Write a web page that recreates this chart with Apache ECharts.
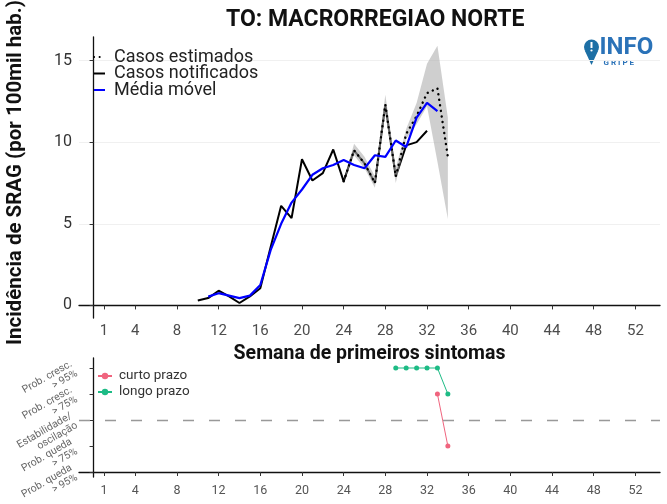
<!DOCTYPE html>
<html><head><meta charset="utf-8">
<script src="https://cdn.jsdelivr.net/npm/echarts@6/dist/echarts.min.js"></script>
<style>html,body{margin:0;padding:0;background:#fff}#c{width:667px;height:504px}</style>
</head><body><div id="c"></div>
<script>
// ---- data ----
const xTicks = [1,4,8,12,16,20,24,28,32,36,40,44,48,52];
const yTicks = [0,5,10,15];
const notifWeeks = [10,11,12,13,14,15,16,17,18,19,20,21,22,23,24,25,26,27,28,29,30,31,32];
const notifVals  = [0.3,0.45,0.9,0.55,0.15,0.55,1.05,3.6,6.1,5.35,8.95,7.65,8.1,9.55,7.6,9.5,8.7,7.5,12.3,7.9,9.8,10.0,10.7];
const mmWeeks = [11,12,13,14,15,16,17,18,19,20,21,22,23,24,25,26,27,28,29,30,31,32,33];
const mmVals  = [0.54,0.75,0.6,0.45,0.6,1.25,3.4,5.0,6.3,7.1,8.0,8.4,8.6,8.9,8.6,8.4,9.2,9.1,10.1,9.7,11.5,12.4,11.9];
const estWeeks = [24,25,26,27,28,29,30,31,32,33,34];
const estVals  = [7.6,9.5,8.7,7.5,12.3,7.9,10.5,11.6,13.0,13.3,9.1];
const ciLow    = [7.6,9.2,8.4,7.2,11.8,7.5,10.2,11.1,12.2,8.8,5.3];
const ciHigh   = [7.6,9.9,9.1,7.9,12.9,8.4,10.8,12.4,14.8,15.9,11.5];
const trendLevels = ['Prob. queda\n> 95%','Prob. queda\n> 75%','Estabilidade/\noscilação','Prob. cresc.\n> 75%','Prob. cresc.\n> 95%'];
const curtoWeeks = [33,34];
const curtoLevels = [3,1];
const longoWeeks = [29,30,31,32,33,34];
const longoLevels = [4,4,4,4,4,3];

const pairs = (xs, ys) => xs.map((x,i)=>[x, ys[i]]);
const FONT = 'Roboto, "Noto Sans", sans-serif';

const chart = echarts.init(document.getElementById('c'), null, {renderer:'canvas'});
const option = {
  backgroundColor:'#ffffff',
  textStyle:{fontFamily:FONT},
  animation:false,
  title:{text:'TO: MACRORREGIAO NORTE', left:221, top:4,
    textStyle:{fontFamily:FONT, fontWeight:'bold', fontSize:23, color:'#111'}},
  legend:[{
    data:['Casos estimados','Casos notificados','Média móvel'],
    orient:'vertical', left:88, top:43, itemGap:-1.5, itemWidth:11, itemHeight:3,
    itemStyle:{opacity:0},
    textStyle:{fontSize:18, color:'#222', fontFamily:FONT, padding:[0,0,0,4]},
    selectedMode:false
  },{
    data:['curto prazo','longo prazo'],
    orient:'vertical', left:92, top:364, itemGap:2, itemWidth:14, itemHeight:8,
    textStyle:{fontSize:13.5, color:'#333', fontFamily:FONT, padding:[0,0,0,2]},
    selectedMode:false
  }],
  grid:[
    {left:79, right:7, top:37, height:281, outerBoundsMode:'none', containLabel:false},
    {left:79, right:7, top:358, height:119, outerBoundsMode:'none', containLabel:false}
  ],
  xAxis:[{
    type:'value', gridIndex:0, min:-1.4, max:54.36,
    axisLine:{lineStyle:{color:'#111', width:1.3}},
    axisTick:{show:true, customValues:xTicks, length:4, lineStyle:{color:'#333'}},
    axisLabel:{customValues:xTicks, fontSize:15, color:'#4d4d4d', margin:6},
    splitLine:{show:false},
    name:'Semana de primeiros sintomas', nameLocation:'middle', nameGap:22,
    nameTextStyle:{fontWeight:'bold', fontSize:19.5, color:'#111'}
  },{
    type:'value', gridIndex:1, min:-1.4, max:54.36,
    axisLine:{lineStyle:{color:'#111', width:1.3}},
    axisTick:{show:true, customValues:xTicks, length:4, lineStyle:{color:'#333'}},
    axisLabel:{customValues:xTicks, fontSize:12.5, color:'#555', margin:7},
    splitLine:{show:false}
  }],
  yAxis:[{
    type:'value', gridIndex:0, min:-0.77, max:16.44,
    axisLine:{show:true, lineStyle:{color:'#111', width:1.3}},
    axisTick:{show:true, customValues:yTicks, length:4, lineStyle:{color:'#333'}},
    axisLabel:{customValues:yTicks, fontSize:16, color:'#333', margin:7},
    splitLine:{show:true, lineStyle:{color:'#f0f0f0', width:1}},
    name:'Incidência de SRAG (por 100mil hab.)', nameLocation:'middle', nameGap:53,
    nameTextStyle:{fontWeight:'bold', fontSize:20.5, color:'#111', padding:[0,0,0,10]}
  },{
    type:'value', gridIndex:1, min:-0.192, max:4.385,
    axisLine:{show:true, lineStyle:{color:'#111', width:1.3}},
    axisTick:{show:true, customValues:[0,1,2,3,4], length:4, lineStyle:{color:'#333'}},
    axisLabel:{customValues:[0,1,2,3,4], fontSize:10.5, color:'#666', rotate:30, margin:5, lineHeight:11,
      hideOverlap:false, formatter:v=>trendLevels[Math.round(v)]},
    splitLine:{show:false}
  }],
  series:[
    {name:'Casos notificados', type:'line', xAxisIndex:0, yAxisIndex:0, z:2,
     data:pairs(notifWeeks, notifVals), symbol:'none',
     lineStyle:{color:'#000', width:2}, itemStyle:{color:'#000'}},
    {name:'IC', type:'custom', xAxisIndex:0, yAxisIndex:0, z:3, silent:true,
     data:estWeeks.map((w,i)=>[w, ciLow[i], ciHigh[i]]),
     encode:{x:0, y:[1,2]},
     renderItem:function(params, api){
       if (params.dataIndex !== 0) return null;
       const up = estWeeks.map((w,i)=>api.coord([w, ciHigh[i]]));
       const lo = estWeeks.map((w,i)=>api.coord([w, ciLow[i]])).reverse();
       return {type:'polygon', shape:{points:up.concat(lo)},
         style:{fill:'rgba(175,175,175,0.6)', stroke:null}};
     }},
    {name:'Casos estimados', type:'line', xAxisIndex:0, yAxisIndex:0, z:4,
     data:pairs(estWeeks, estVals), symbol:'none',
     lineStyle:{color:'#000', width:2.4, type:[0.1,5.5], cap:'round'}, itemStyle:{color:'#000'}},
    {name:'Média móvel', type:'line', xAxisIndex:0, yAxisIndex:0, z:5,
     data:pairs(mmWeeks, mmVals), symbol:'none',
     lineStyle:{color:'#0000ff', width:2.2}, itemStyle:{color:'#0000ff'}},
    {name:'curto prazo', type:'line', xAxisIndex:1, yAxisIndex:1, z:4,
     data:pairs(curtoWeeks, curtoLevels), symbol:'circle', symbolSize:5,
     lineStyle:{color:'#f0647e', width:1}, itemStyle:{color:'#f0647e'},
     markLine:{silent:true, symbol:'none', label:{show:false},
       lineStyle:{color:'#999', type:[11,15], width:1.3},
       data:[{yAxis:2}]}},
    {name:'longo prazo', type:'line', xAxisIndex:1, yAxisIndex:1, z:5,
     data:pairs(longoWeeks, longoLevels), symbol:'circle', symbolSize:5,
     lineStyle:{color:'#1dbb85', width:1}, itemStyle:{color:'#1dbb85'}}
  ],
  graphic:[
    {type:'group', left:584, top:36, children:[
      {type:'circle', shape:{cx:8, cy:9, r:7.5}, style:{fill:'#1d6fa5'}},
      {type:'polygon', shape:{points:[[1.5,13],[14.5,13],[8,27]]}, style:{fill:'#1d6fa5'}},
      {type:'rect', shape:{x:7, y:4, width:2, height:6}, style:{fill:'#fff'}},
      {type:'circle', shape:{cx:8, cy:12.5, r:1.1}, style:{fill:'#fff'}},
      {type:'text', x:16, y:-2, style:{text:'INFO', fill:'#2a72b8', font:'bold 24px '+FONT}},
      {type:'text', x:20, y:21, style:{text:'G R I P E', fill:'#2a72b8', font:'bold 8px '+FONT}}
    ]}
  ]
};
chart.setOption(option);
</script></body></html>
